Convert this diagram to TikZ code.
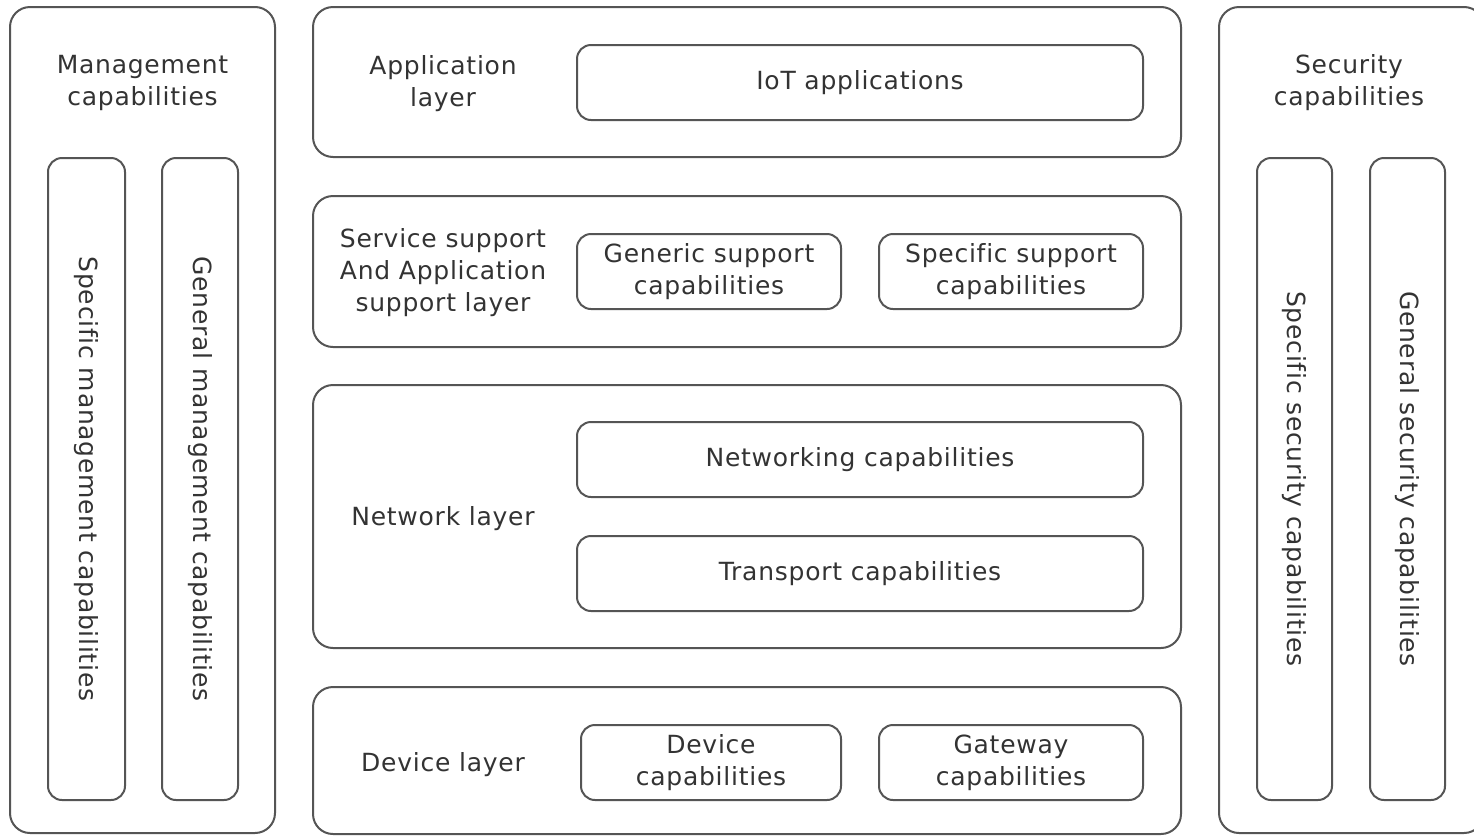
\documentclass[tikz,border=0pt]{standalone}
\usepackage{fontspec}
\setmainfont{DejaVu Sans}[LetterSpace=3,Ligatures={NoCommon}]
\definecolor{edge}{HTML}{555555}
\definecolor{ink}{HTML}{333333}
\begin{document}
\begin{tikzpicture}[x=1pt,y=-1pt,
  font=\fontsize{25}{32}\selectfont, text=ink,
  outerbox/.style={draw=edge, line width=2pt, rounded corners=20pt, inner sep=0pt, outer sep=0pt},
  innerbox/.style={draw=edge, line width=2pt, rounded corners=14pt, inner sep=0pt, outer sep=0pt, align=center},
  lbl/.style={align=center, inner sep=0pt, yshift=-3pt}]
\useasboundingbox (0,0) rectangle (1474,836);
\clip (0,0) rectangle (1474,836);
\fill[white] (0,0) rectangle (1474,836);
% Management
\node[outerbox, minimum width=265pt, minimum height=826pt] (mgmt) at (142.5,420) {};
\node[lbl] (mgmtT) at (142.5,80) {Management\\capabilities};
\node[innerbox, minimum width=77pt, minimum height=642pt] (mgmtS) at (86.5,479) {};
\node[rotate=-90, align=center, inner sep=0pt] (mgmtSt) at (mgmtS.center) {Specific management capabilities};
\node[innerbox, minimum width=76pt, minimum height=642pt] (mgmtG) at (200,479) {};
\node[rotate=-90, align=center, inner sep=0pt] (mgmtGt) at (mgmtG.center) {General management capabilities};
% Application layer
\node[outerbox, minimum width=868pt, minimum height=150pt] (app) at (747,82) {};
\node[lbl] (appT) at (443,81) {Application\\layer};
\node[innerbox, minimum width=566pt, minimum height=75pt] (iot) at (860,82.5) {IoT applications};
% Service support
\node[outerbox, minimum width=868pt, minimum height=151pt] (svc) at (747,271.5) {};
\node[lbl] (svcT) at (443,270) {Service support\\And Application\\support layer};
\node[innerbox, minimum width=264pt, minimum height=75pt] (gen) at (709,271.5) {Generic support\\capabilities};
\node[innerbox, minimum width=264pt, minimum height=75pt] (spec) at (1011,271.5) {Specific support\\capabilities};
% Network layer
\node[outerbox, minimum width=868pt, minimum height=263pt] (net) at (747,516.5) {};
\node[lbl] (netT) at (443,516) {Network layer};
\node[innerbox, minimum width=566pt, minimum height=75pt] (netw) at (860,459.5) {Networking capabilities};
\node[innerbox, minimum width=566pt, minimum height=75pt] (trans) at (860,573.5) {Transport capabilities};
% Device layer
\node[outerbox, minimum width=868pt, minimum height=147pt] (dev) at (747,760.5) {};
\node[lbl] (devT) at (443,762) {Device layer};
\node[innerbox, minimum width=260pt, minimum height=75pt] (devc) at (711,762.5) {Device\\capabilities};
\node[innerbox, minimum width=264pt, minimum height=75pt] (gw) at (1011,762.5) {Gateway\\capabilities};
% Security
\node[outerbox, minimum width=265pt, minimum height=826pt] (sec) at (1351.5,420) {};
\node[lbl] (secT) at (1349,80) {Security\\capabilities};
\node[innerbox, minimum width=75pt, minimum height=642pt] (secS) at (1294.5,479) {};
\node[rotate=-90, align=center, inner sep=0pt] (secSt) at (secS.center) {Specific security capabilities};
\node[innerbox, minimum width=75pt, minimum height=642pt] (secG) at (1407.5,479) {};
\node[rotate=-90, align=center, inner sep=0pt] (secGt) at (secG.center) {General security capabilities};
\end{tikzpicture}
\end{document}
